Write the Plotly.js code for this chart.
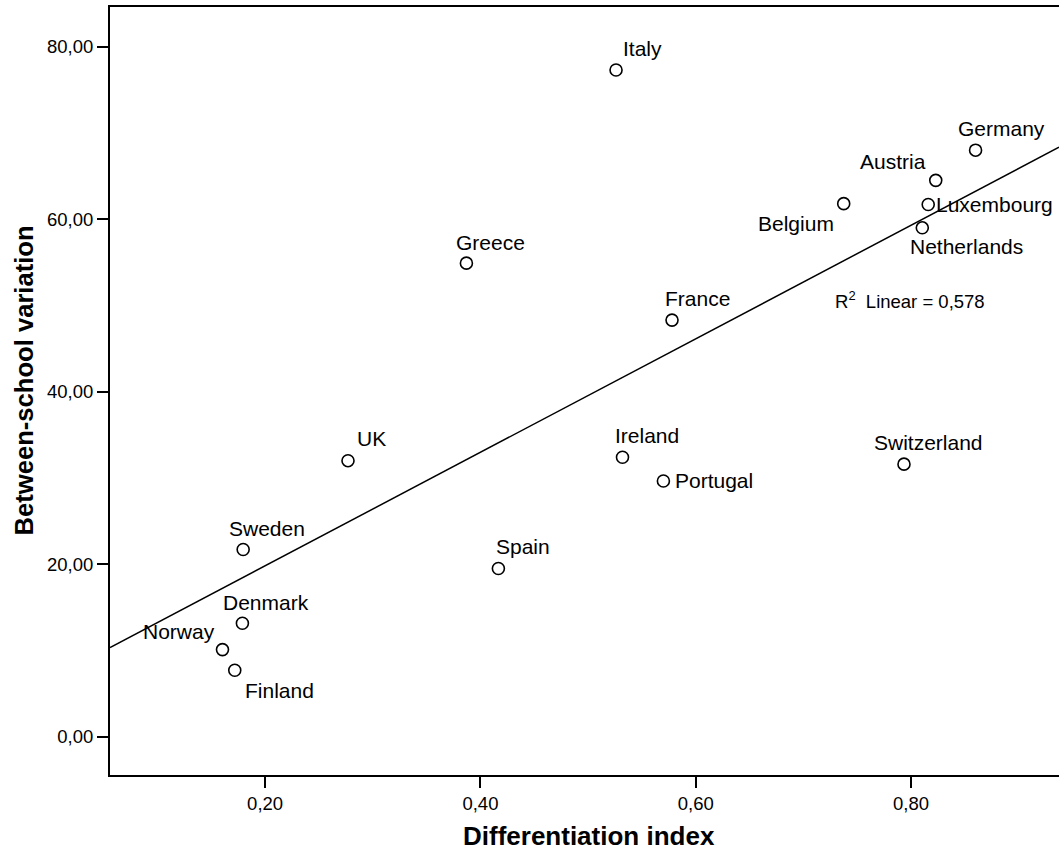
<!DOCTYPE html>
<html>
<head>
<meta charset="utf-8">
<script src="https://cdn.plot.ly/plotly-3.0.1.min.js"></script>
<style>html,body{margin:0;padding:0;background:#fff;}#chart{width:1059px;height:852px;}</style>
</head>
<body>
<div id="chart"></div>
<script>
// ---- data ----
const countries = ["Italy","Germany","Austria","Belgium","Luxembourg","Netherlands","Greece","France","UK","Ireland","Portugal","Switzerland","Sweden","Spain","Denmark","Norway","Finland"];
const differentiationIndex = [0.526,0.860,0.823,0.7375,0.816,0.8105,0.387,0.578,0.277,0.532,0.570,0.7935,0.1796,0.4167,0.1789,0.1604,0.1718];
const betweenSchoolVariation = [77.3,68.0,64.5,61.8,61.7,59.0,54.9,48.3,32.0,32.4,29.65,31.6,21.7,19.5,13.15,10.1,7.7];
const xTitle = "Differentiation index";
const yTitle = "Between-school variation";
const fitLabel = "R<sup>2</sup>  Linear = 0,578";

// ---- label placement (anchor side, x shift, y shift in px) ----
const labelPlacement = {
  "Italy":["left",5,21], "Germany":["left",-20,22], "Austria":["right",-8,19],
  "Belgium":["right",-8,-20], "Luxembourg":["left",6,0], "Netherlands":["left",-14,-19],
  "Greece":["left",-12,21], "France":["left",-9,22], "UK":["left",7,22],
  "Ireland":["left",-10,22], "Portugal":["left",10,0], "Switzerland":["left",-32,22],
  "Sweden":["left",-16,21], "Spain":["left",-4,22], "Denmark":["left",-21,21],
  "Norway":["right",-5,18], "Finland":["left",8,-20]
};

const xRange = [0.0559, 0.9375];
const yRange = [-4.44, 84.6];

// least-squares fit
const n = differentiationIndex.length;
const mx = differentiationIndex.reduce((a,b)=>a+b,0)/n;
const my = betweenSchoolVariation.reduce((a,b)=>a+b,0)/n;
let sxy=0, sxx=0;
for (let i=0;i<n;i++){ sxy += (differentiationIndex[i]-mx)*(betweenSchoolVariation[i]-my); sxx += (differentiationIndex[i]-mx)**2; }
const slope = sxy/sxx, intercept = my - slope*mx;

const font = "Liberation Sans, Arial, sans-serif";

const traces = [
  {x: xRange, y: xRange.map(v=>intercept+slope*v), mode:"lines", type:"scatter",
   line:{color:"#000", width:1.5}, hoverinfo:"skip", showlegend:false, cliponaxis:true},
  {x: differentiationIndex, y: betweenSchoolVariation, text: countries, mode:"markers", type:"scatter",
   marker:{symbol:"circle-open", size:12, color:"#000", line:{width:1.6, color:"#000"}},
   showlegend:false, cliponaxis:false}
];

const annotations = countries.map((c,i)=>{
  const p = labelPlacement[c];
  return {x: differentiationIndex[i], y: betweenSchoolVariation[i], xref:"x", yref:"y",
    text: c, showarrow:false, xanchor:p[0], yanchor:"middle", xshift:p[1], yshift:p[2],
    font:{family:font, size:21, color:"#000"}};
});
annotations.push({x:0.7278, y:50.6, xref:"x", yref:"y", text: fitLabel, showarrow:false,
  xanchor:"left", yanchor:"middle", font:{family:font, size:18.5, color:"#000"}});
// axis titles
annotations.push({x:-0.0896, y:0.5137, xref:"paper", yref:"paper", text: yTitle, showarrow:false,
  textangle:-90, xanchor:"center", yanchor:"middle",
  font:{family:font, size:25.6, color:"#000", weight:"bold"}});
annotations.push({x:0.5047, y:-0.0794, xref:"paper", yref:"paper", text: xTitle, showarrow:false,
  xanchor:"center", yanchor:"middle",
  font:{family:font, size:26, color:"#000", weight:"bold"}});

const layout = {
  width:1059, height:852,
  margin:{l:110, r:0, t:7, b:77},
  paper_bgcolor:"#fff", plot_bgcolor:"#fff",
  separators:",.",
  font:{family:font, color:"#000"},
  showlegend:false,
  xaxis:{range:xRange, dtick:0.2, tick0:0, tickformat:".2f", showgrid:false, zeroline:false,
    showline:true, linecolor:"#000", linewidth:2, mirror:true,
    ticks:"outside", ticklen:11, tickwidth:2, tickcolor:"#000",
    tickfont:{family:font, size:18.5, color:"#000"}},
  yaxis:{range:yRange, dtick:20, tick0:0, tickformat:".2f", showgrid:false, zeroline:false,
    showline:true, linecolor:"#000", linewidth:2, mirror:false,
    ticks:"outside", ticklen:11, tickwidth:2, tickcolor:"#000",
    tickfont:{family:font, size:18.5, color:"#000"}},
  annotations: annotations
};

Plotly.newPlot("chart", traces, layout, {displayModeBar:false, staticPlot:true});
</script>
</body>
</html>
